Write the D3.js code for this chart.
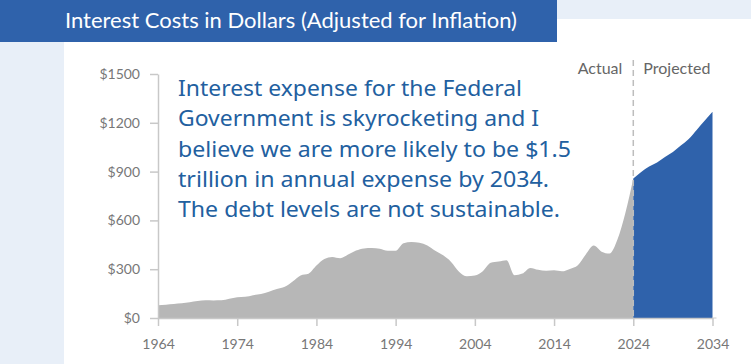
<!DOCTYPE html>
<html>
<head>
<meta charset="utf-8">
<script src="https://cdn.jsdelivr.net/npm/d3@7"></script>
<style>
  body { margin: 0; background: #fff; }
  svg { display: block; }
</style>
</head>
<body>
<div id="graf"></div>
<script>
// values, billions of 2024 dollars
const actualYears = d3.range(1964, 2025)
const actualValues = [
  78, 82, 86, 90, 97, 104, 109, 108, 109, 118,
  128, 130, 140, 148, 162, 178, 192, 225, 262, 272,
  322, 362, 375, 367, 390, 415, 428, 430, 426, 414,
  414, 460, 467, 462, 446, 414, 385, 345, 285, 256,
  261, 287, 339, 347, 355, 263, 273, 308, 296, 290,
  293, 287, 302, 324, 390, 445, 408, 396, 482, 645,
  857
]
const projYears = d3.range(2024, 2035)
const projValues = [857, 898, 931, 956, 990, 1020, 1060, 1100, 1156, 1212, 1268]

const xTicks = [1964, 1974, 1984, 1994, 2004, 2014, 2024, 2034]
const yTicks = [0, 300, 600, 900, 1200, 1500]

const titulo = 'Interest Costs in Dollars (Adjusted for Inflation)'
const nota = [
  'Interest expense for the Federal',
  'Government is skyrocketing and I',
  'believe we are more likely to be $1.5',
  'trillion in annual expense by 2034.',
  'The debt levels are not sustainable.'
]
const notaAncho = [344, 361, 393, 371, 382]

const ancho = 751
const alto = 364
const azul = '#2f62ab'
const fondo = '#e8eff8'

const svg = d3.select('#graf').append('svg')
    .attr('width', ancho)
    .attr('height', alto)

// background strips
svg.append('rect').attr('x', 0).attr('y', 0).attr('width', 64).attr('height', alto).attr('fill', fondo)
svg.append('rect').attr('x', 557).attr('y', 0).attr('width', ancho - 557).attr('height', 19).attr('fill', fondo)
svg.append('rect').attr('x', 0).attr('y', 0).attr('width', 557).attr('height', 42).attr('fill', azul)

svg.append('text')
    .attr('x', 65).attr('y', 28)
    .attr('fill', '#fff')
    .style('font-family', 'Lato')
    .style('font-size', '22px')
    .text(titulo)

const x = d3.scaleLinear().domain([1964, 2034]).range([158, 712.5])
const y = d3.scaleLinear().domain([0, 1500]).range([318, 74])

const area = d3.area()
    .x(d => x(d[0]))
    .y0(y(0))
    .y1(d => y(d[1]))
    .curve(d3.curveMonotoneX)

svg.append('path')
    .datum(actualYears.map((a, i) => [a, actualValues[i]]))
    .attr('d', area)
    .attr('fill', '#b7b7b7')

svg.append('path')
    .datum(projYears.map((a, i) => [a, projValues[i]]))
    .attr('d', area)
    .attr('fill', azul)

// axes
const gy = svg.append('g')
    .attr('transform', `translate(${x(1964)},0)`)
    .call(d3.axisLeft(y).tickValues(yTicks).tickSize(8).tickPadding(10).tickSizeOuter(0)
        .tickFormat(d => '$' + d))
const gx = svg.append('g')
    .attr('transform', `translate(0,${y(0)})`)
    .call(d3.axisBottom(x).tickValues(xTicks).tickSize(8).tickPadding(10).tickSizeOuter(0)
        .tickFormat(d3.format('d')))

svg.append('line')
    .attr('x1', x(2034)).attr('x2', x(2034) + 4)
    .attr('y1', y(0)).attr('y2', y(0))
    .attr('stroke', '#ccc')

for (const g of [gx, gy]) {
  g.selectAll('.domain, line').attr('stroke', '#c8c8c8').attr('stroke-width', 1.5)
  g.selectAll('text')
      .attr('fill', '#777')
      .style('font-family', 'Lato')
      .style('font-size', '14px')
}
gx.selectAll('text').attr('dy', '0.9em')

// actual / projected divider
svg.append('line')
    .attr('x1', x(2024)).attr('x2', x(2024))
    .attr('y1', 60).attr('y2', y(0))
    .attr('stroke', '#bdbdbd')
    .attr('stroke-width', 1.5)
    .attr('stroke-dasharray', '6,4')

svg.append('text')
    .attr('x', x(2024) - 11).attr('y', 74)
    .attr('text-anchor', 'end')
    .attr('fill', '#666')
    .style('font-family', 'Lato')
    .style('font-size', '16px')
    .text('Actual')
svg.append('text')
    .attr('x', x(2024) + 10).attr('y', 74)
    .attr('fill', '#666')
    .style('font-family', 'Lato')
    .style('font-size', '16px')
    .text('Projected')

// annotation
svg.append('g').selectAll('text')
    .data(nota)
    .join('text')
    .attr('x', 178)
    .attr('y', (d, i) => 96 + i * 30.3)
    .attr('fill', '#22609f')
    .attr('textLength', (d, i) => notaAncho[i])
    .attr('lengthAdjust', 'spacingAndGlyphs')
    .style('font-family', 'Noto Sans')
    .style('font-size', '21px')
    .text(d => d)
</script>
</body>
</html>
